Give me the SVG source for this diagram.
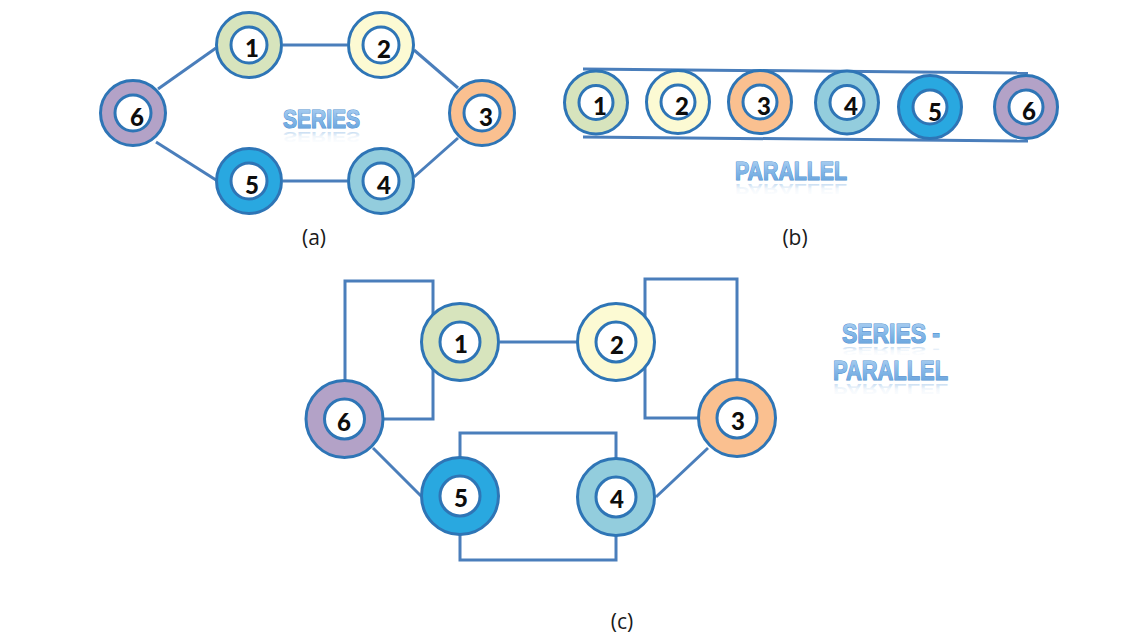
<svg xmlns="http://www.w3.org/2000/svg" width="1144" height="640" viewBox="0 0 1144 640">
<defs>
<linearGradient id="tg" x1="0" y1="0" x2="0" y2="1">
<stop offset="0" stop-color="#b5d5f3"/>
<stop offset="0.5" stop-color="#85b8e8"/>
<stop offset="1" stop-color="#5f9dd8"/>
</linearGradient>
<linearGradient id="rg" x1="0" y1="0" x2="0" y2="1">
<stop offset="0" stop-color="#7fb0e0" stop-opacity="0"/>
<stop offset="0.5" stop-color="#7fb0e0" stop-opacity="0.1"/>
<stop offset="1" stop-color="#7fb0e0" stop-opacity="0.6"/>
</linearGradient>
</defs>
<style>
.ring{stroke:#2e75b6;stroke-width:3}
.in{fill:#fff;stroke:#2e75b6;stroke-width:3}
.num{font-family:"Lato","Liberation Sans",sans-serif;font-weight:900;font-size:24px;fill:#0d0d0d;text-anchor:middle;dominant-baseline:central}
.con{fill:none;stroke:#4a7ebb;stroke-width:3}
.cap{font-family:"Open Sans","Liberation Sans",sans-serif;font-size:21px;fill:#1a1a1a;text-anchor:middle}
.ttl{font-family:"Liberation Sans",sans-serif;font-weight:bold;fill:url(#tg);stroke:#4f8fd0;stroke-width:1.1;paint-order:stroke}
.ref{font-family:"Liberation Sans",sans-serif;font-weight:bold;fill:url(#rg)}
.c1{fill:#d7e4bd}.c2{fill:#fcfad3}.c3{fill:#fac090}.c4{fill:#93cddd}.c5{fill:#29a8e0}.c6{fill:#b3a2c7}
</style>
<rect width="1144" height="640" fill="#fff"/>

<g id="connectors">
<!-- (a) series -->
<line class="con" x1="283" y1="45" x2="347" y2="45"/>
<line class="con" x1="158" y1="89" x2="216" y2="48"/>
<line class="con" x1="414" y1="50" x2="458" y2="88"/>
<line class="con" x1="458" y1="138" x2="414" y2="177"/>
<line class="con" x1="156" y1="142" x2="216" y2="180"/>
<line class="con" x1="283" y1="181" x2="347" y2="181"/>
<!-- (b) parallel -->
<line class="con" x1="583" y1="69" x2="1028" y2="73"/>
<line class="con" x1="583" y1="137" x2="1028" y2="141"/>
<!-- (c) series-parallel -->
<line class="con" x1="500" y1="342" x2="577" y2="342"/>
<rect class="con" x="345" y="281" width="88" height="138"/>
<rect class="con" x="645" y="279" width="92" height="139"/>
<rect class="con" x="460" y="433" width="156" height="127"/>
<line class="con" x1="373" y1="448" x2="421" y2="496"/>
<line class="con" x1="708" y1="448" x2="656" y2="497"/>
</g>

<!-- (a) nodes -->
<g id="a1"><circle class="ring c1" cx="249" cy="45" r="32.5"/><circle class="in" cx="249" cy="45" r="18"/><text class="num" x="252" y="47">1</text></g>
<g id="a2"><circle class="ring c2" cx="381" cy="45" r="32.5"/><circle class="in" cx="381" cy="45" r="18"/><text class="num" x="384" y="48">2</text></g>
<g id="a3"><circle class="ring c3" cx="482" cy="113" r="32.5"/><circle class="in" cx="482" cy="113" r="18"/><text class="num" x="486" y="116">3</text></g>
<g id="a4"><circle class="ring c4" cx="381" cy="181" r="32.5"/><circle class="in" cx="381" cy="181" r="18"/><text class="num" x="384" y="184">4</text></g>
<g id="a5"><circle class="ring c5" cx="249" cy="181" r="32.5" stroke-width="3.5"/><circle class="in" cx="249" cy="181" r="18"/><text class="num" x="252" y="184">5</text></g>
<g id="a6"><circle class="ring c6" cx="133" cy="113" r="32.5"/><circle class="in" cx="133" cy="113" r="18"/><text class="num" x="137" y="116">6</text></g>

<!-- (b) nodes -->
<g id="b1"><circle class="ring c1" cx="596" cy="102.5" r="31.5"/><circle class="in" cx="596" cy="102.5" r="17"/><text class="num" x="600" y="105">1</text></g>
<g id="b2"><circle class="ring c2" cx="678" cy="102" r="31.5"/><circle class="in" cx="678" cy="102" r="17"/><text class="num" x="682" y="105">2</text></g>
<g id="b3"><circle class="ring c3" cx="760" cy="102" r="31.5"/><circle class="in" cx="760" cy="102" r="17"/><text class="num" x="764" y="105">3</text></g>
<g id="b4"><circle class="ring c4" cx="847" cy="102.5" r="31.5"/><circle class="in" cx="847" cy="102.5" r="17"/><text class="num" x="851" y="105">4</text></g>
<g id="b5"><circle class="ring c5" cx="930" cy="107" r="31.5" stroke-width="3.5"/><circle class="in" cx="930" cy="107" r="17"/><text class="num" x="935" y="111">5</text></g>
<g id="b6"><circle class="ring c6" cx="1026" cy="107" r="31.5"/><circle class="in" cx="1026" cy="107" r="17"/><text class="num" x="1029" y="110">6</text></g>

<!-- (c) nodes -->
<g id="c1"><circle class="ring c1" cx="460" cy="342" r="38.5"/><circle class="in" cx="460" cy="342" r="20"/><text class="num" x="461" y="343">1</text></g>
<g id="c2"><circle class="ring c2" cx="616" cy="342" r="38.5"/><circle class="in" cx="616" cy="342" r="20"/><text class="num" x="617" y="344">2</text></g>
<g id="c3"><circle class="ring c3" cx="737" cy="418" r="38.5"/><circle class="in" cx="737" cy="418" r="20"/><text class="num" x="738" y="420">3</text></g>
<g id="c4"><circle class="ring c4" cx="616" cy="497" r="38.5"/><circle class="in" cx="616" cy="497" r="20"/><text class="num" x="617" y="498">4</text></g>
<g id="c5"><circle class="ring c5" cx="460" cy="496" r="38.5" stroke-width="3.5"/><circle class="in" cx="460" cy="496" r="20"/><text class="num" x="461" y="497">5</text></g>
<g id="c6"><circle class="ring c6" cx="344.5" cy="419" r="38.5"/><circle class="in" cx="344.5" cy="419" r="20"/><text class="num" x="344" y="421">6</text></g>

<!-- titles -->
<g id="title-series">
<text class="ttl" x="321.5" y="128" font-size="25" text-anchor="middle" textLength="77" lengthAdjust="spacingAndGlyphs">SERIES</text>
<text class="ref" x="321.5" y="128" font-size="25" text-anchor="middle" textLength="77" lengthAdjust="spacingAndGlyphs" transform="translate(0,202.4) scale(1,-0.55)">SERIES</text>
</g>
<g id="title-parallel">
<text class="ttl" x="791" y="180" font-size="25" text-anchor="middle" textLength="112" lengthAdjust="spacingAndGlyphs">PARALLEL</text>
<text class="ref" x="791" y="180" font-size="25" text-anchor="middle" textLength="112" lengthAdjust="spacingAndGlyphs" transform="translate(0,283) scale(1,-0.55)">PARALLEL</text>
</g>
<g id="title-series-parallel">
<text class="ttl" x="891" y="343" font-size="28" text-anchor="middle" textLength="98" lengthAdjust="spacingAndGlyphs">SERIES -</text>
<text class="ref" x="891" y="343" font-size="28" text-anchor="middle" textLength="98" lengthAdjust="spacingAndGlyphs" transform="translate(0,470.5) scale(1,-0.36)">SERIES -</text>
<text class="ttl" x="890.5" y="380" font-size="28" text-anchor="middle" textLength="115" lengthAdjust="spacingAndGlyphs">PARALLEL</text>
<text class="ref" x="890.5" y="380" font-size="28" text-anchor="middle" textLength="115" lengthAdjust="spacingAndGlyphs" transform="translate(0,593) scale(1,-0.55)">PARALLEL</text>
</g>

<!-- captions -->
<text class="cap" x="314" y="245">(a)</text>
<text class="cap" x="795" y="245">(b)</text>
<text class="cap" x="622" y="629">(c)</text>
</svg>
